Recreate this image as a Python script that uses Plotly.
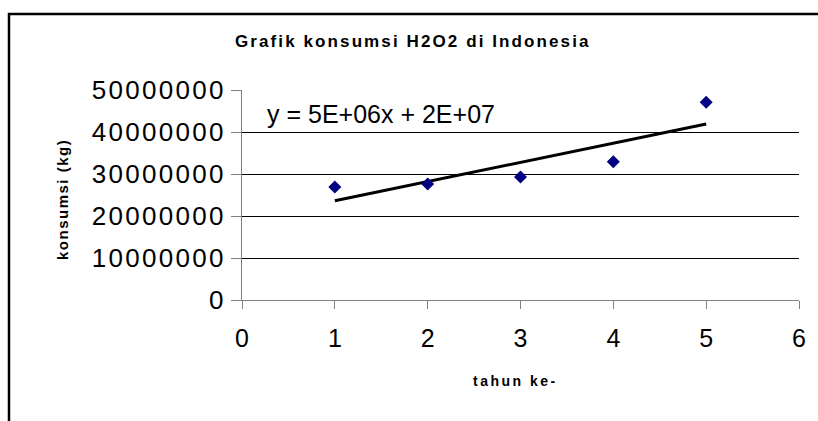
import numpy as np
import plotly.graph_objects as go

# ---- data ----
tahun = [1, 2, 3, 4, 5]
konsumsi = [26900000, 27600000, 29300000, 32900000, 47100000]
x_ticks = [0, 1, 2, 3, 4, 5, 6]
y_ticks = [0, 10000000, 20000000, 30000000, 40000000, 50000000]
title_text = "Grafik konsumsi H2O2 di Indonesia"
x_title = "tahun ke-"
y_title = "konsumsi (kg)"

# linear trendline (least squares fit of the data)
slope, intercept = np.polyfit(tahun, konsumsi, 1)
trend_x = [min(tahun), max(tahun)]
trend_y = [slope * v + intercept for v in trend_x]
eq_text = "y = {:.0E}x + {:.0E}".format(slope, intercept)

# ---- layout geometry (window pixels; body margin removed below) ----
W, H = 818, 421
PL, PR, PT, PB = 242, 799, 90, 300
pw, ph = PR - PL, PB - PT


def px(xw):
    return (xw - PL) / pw


def py(yw):
    return (PB - yw) / ph


FONT = "Liberation Sans, Arial, sans-serif"


def spaced(s, sp):
    return '<span style="letter-spacing:%spx">%s</span>' % (sp, s)


fig = go.Figure()
fig.add_trace(go.Scatter(
    x=trend_x, y=trend_y, mode="lines",
    line=dict(color="black", width=3), showlegend=False, hoverinfo="skip"))
fig.add_trace(go.Scatter(
    x=tahun, y=konsumsi, mode="markers",
    marker=dict(symbol="diamond", size=10, color="#000080",
                line=dict(width=0)),
    showlegend=False))

fig.update_layout(
    width=W, height=H,
    margin=dict(l=PL, r=W - PR, t=PT, b=H - PB, pad=0),
    paper_bgcolor="white", plot_bgcolor="white",
    font=dict(family=FONT, color="black"),
    showlegend=False,
)

fig.update_xaxes(
    range=[0, 6], tickvals=x_ticks, ticktext=[str(v) for v in x_ticks],
    showgrid=False, zeroline=False,
    showline=True, linecolor="#808080", linewidth=1,
    ticks="outside", ticklen=8, tickcolor="#808080", tickwidth=1,
    ticklabelstandoff=8,
    tickfont=dict(size=25, family=FONT, color="black"),
)
fig.update_yaxes(
    range=[0, 50000000], tickvals=y_ticks,
    ticktext=[spaced(str(v), 2.3) for v in y_ticks],
    showgrid=True, gridcolor="black", gridwidth=1, zeroline=False,
    showline=True, linecolor="#808080", linewidth=1,
    ticks="outside", ticklen=10, tickcolor="#808080", tickwidth=1,
    tickfont=dict(size=26, family=FONT, color="black"),
)

annotations = [
    dict(text='<b>' + spaced(title_text, 2.1) + '</b>',
         xref="paper", yref="paper", x=px(413), y=py(42),
         xanchor="center", yanchor="middle", showarrow=False,
         font=dict(size=17, family=FONT, color="black")),
    dict(text='<b>' + spaced(x_title, 2.5) + '</b>',
         xref="paper", yref="paper", x=px(515), y=py(381),
         xanchor="center", yanchor="middle", showarrow=False,
         font=dict(size=14, family=FONT, color="black")),
    dict(text='<b>' + spaced(y_title, 1.5) + '</b>',
         xref="paper", yref="paper", x=px(62), y=py(200),
         xanchor="center", yanchor="middle", showarrow=False, textangle=-90,
         font=dict(size=15, family=FONT, color="black")),
    dict(text=eq_text, xref="x", yref="y", x=0.25, y=44300000,
         xanchor="left", yanchor="middle", showarrow=False,
         font=dict(size=25, family=FONT, color="black")),
]
fig.update_layout(annotations=annotations)

# outer chart border (extends beyond the right and bottom edges)
fig.add_shape(type="rect", xref="paper", yref="paper",
              x0=px(9), x1=px(840), y0=py(450), y1=py(14),
              line=dict(color="black", width=2.5), fillcolor="rgba(0,0,0,0)",
              layer="above")

fig.write_html(
    "out.html",
    config={"displayModeBar": False},
    post_script="document.body.style.margin='0';document.body.style.overflow='hidden';",
)
